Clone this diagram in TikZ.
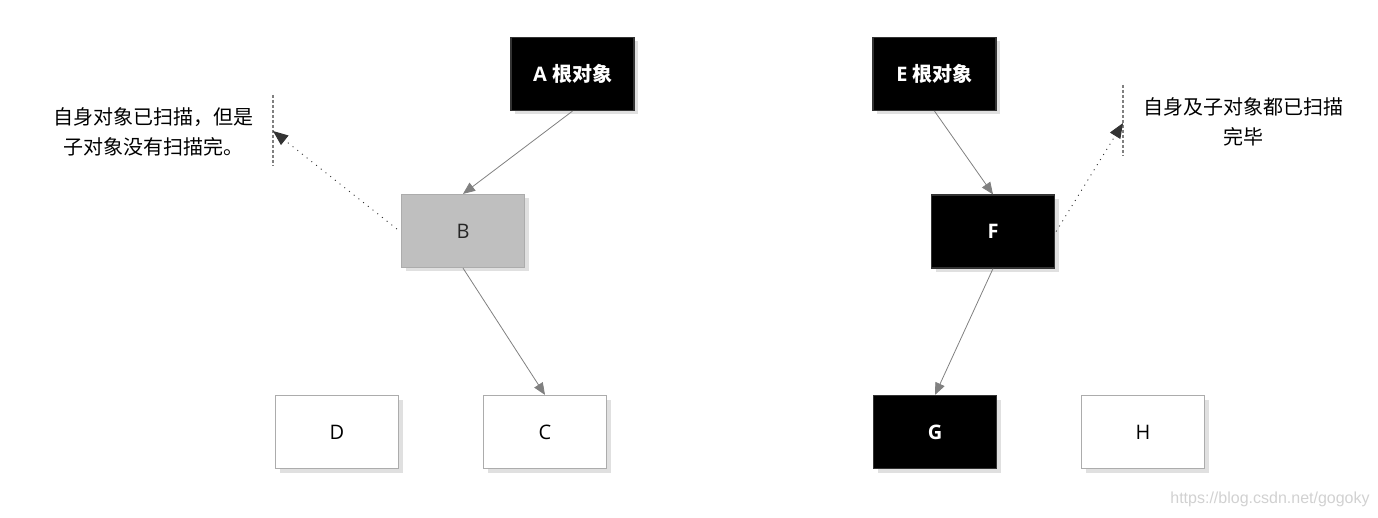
\documentclass[tikz,border=0pt]{standalone}
\usepackage{fontspec}
\setmainfont{Open Sans}
\newfontfamily\cjk{Noto Sans CJK SC}
\newfontfamily\markfont{Liberation Sans}
\usetikzlibrary{arrows.meta, shadows}

\tikzset{
    obj/.style = {draw = gray!65, line width = 1.2pt, fill = white,
        minimum width = 123pt, minimum height = 73pt,
        drop shadow = {shadow xshift = 4pt, shadow yshift = -4pt, fill = black!12, opacity = 1},
        font = \fontsize{20}{24}\selectfont},
    blackobj/.style = {obj, draw = black!80, fill = black, text = white,
        font = \fontsize{20}{24}\selectfont\bfseries},
    grayobj/.style = {obj, fill = black!25, text = black!85},
    link/.style = {draw = gray, line width = 0.8pt,
        -{Triangle[length = 12pt, width = 10pt]}},
    hint/.style = {draw = black!80, line width = 0.9pt, dash pattern = on 1pt off 5pt,
        -{Triangle[length = 15pt, width = 12pt, fill = black!80]}},
    noteline/.style = {draw = gray, line width = 1.2pt, dash pattern = on 3pt off 2pt},
    notetext/.style = {align = center, font = \fontsize{20}{29.5}\selectfont\cjk}
}

\begin{document}
\begin{tikzpicture}[x = 1pt, y = -1pt]
    \useasboundingbox (0, 0) rectangle (1378, 518);

% Left part: B is grey, A is a root.
    \node [blackobj] (A) at (572.5, 74) {A {\cjk 根对象}};
    \node [grayobj] (B) at (463, 231) {B};
    \node [obj] (D) at (337, 432) {D};
    \node [obj] (C) at (545, 432) {C};

% Right part: everything reached is black.
    \node [blackobj] (E) at (934.5, 74) {E {\cjk 根对象}};
    \node [blackobj] (F) at (993, 231.5) {F};
    \node [blackobj] (G) at (935, 432) {G};
    \node [obj] (H) at (1143, 432) {H};

    \draw [link] (A.south) -- (B.north);
    \draw [link] (B.south) -- (C.north);
    \draw [link] (E.south) -- (F.north);
    \draw [link] (F.south) -- (G.north);

% The notes with their dashed marks.
    \coordinate (ltop) at (273, 95);
    \coordinate (lbot) at (273, 166);
    \coordinate (ltip) at (273, 131);
    \draw [noteline] (ltop) -- (lbot);
    \node [notetext] (lnote) at (153, 132) {自身对象已扫描，但是\\子对象没有扫描完。};
    \draw [hint] ([xshift = -4pt, yshift = 2pt]B.west) -- (ltip);

    \coordinate (rtop) at (1123, 85);
    \coordinate (rbot) at (1123, 156);
    \coordinate (rtip) at (1123, 123);
    \draw [noteline] (rtop) -- (rbot);
    \node [notetext] (rnote) at (1243, 122) {自身及子对象都已扫描\\完毕};
    \draw [hint] ([xshift = 1pt]F.east) -- (rtip);

    \node [font = \fontsize{16}{18}\selectfont\markfont, text = black!18] (wm) at (1270, 499)
        {https://blog.csdn.net/gogoky};
\end{tikzpicture}
\end{document}
